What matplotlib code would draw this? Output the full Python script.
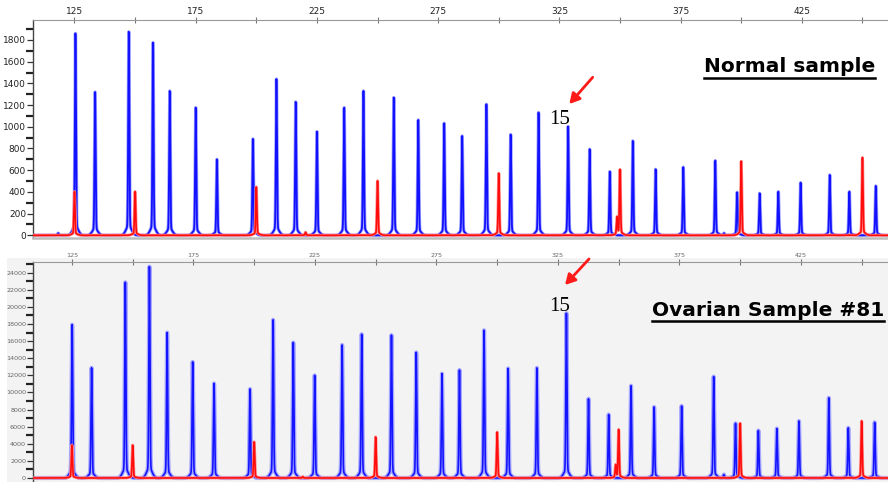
import numpy as np
import matplotlib
matplotlib.use("Agg")
import matplotlib.pyplot as plt
from matplotlib.lines import Line2D
from matplotlib.patches import Rectangle, FancyArrowPatch
from matplotlib.ticker import MultipleLocator, FixedLocator

# ---------------- data ----------------
# fragment sizes (bp) and peak heights
normal_blue_size = [125.4, 133.5, 147.4, 157.4, 164.3, 175.0, 183.75, 198.6, 208.3, 216.25,
                    225.0, 236.25, 244.2, 256.7, 266.8, 277.5, 284.9, 294.9, 304.9, 316.4,
                    328.6, 337.5, 345.8, 355.3, 364.7, 376.1, 389.3, 398.3, 407.6, 415.3,
                    424.5, 436.5, 444.6, 455.5, 118.3, 392.9]
normal_blue_height = [1860, 1320, 1875, 1775, 1330, 1176, 700, 888, 1440, 1230,
                      955, 1177, 1330, 1269, 1063, 1032, 915, 1207, 928, 1131,
                      1002, 793, 587, 870, 608, 627, 688, 396, 387, 402,
                      485, 556, 402, 455, 20, 20]
normal_red_size = [125.0, 150.0, 200.0, 220.3, 250.0, 300.0, 348.8, 350.0, 400.0, 450.0]
normal_red_height = [402, 402, 445, 28, 501, 571, 157, 602, 682, 716]

ovarian_blue_size = [125.1, 133.1, 147.0, 156.9, 164.2, 174.7, 183.5, 198.3, 207.8, 216.1,
                     224.9, 236.2, 244.25, 256.5, 266.7, 277.3, 284.5, 294.6, 304.5, 316.35,
                     328.5, 337.6, 345.9, 355.1, 364.6, 375.9, 389.1, 398.1, 407.5, 415.1,
                     424.2, 436.5, 444.5, 455.35, 393.3]
ovarian_blue_height = [17920, 12880, 22880, 24710, 17000, 13570, 11050, 10400, 18490, 15840,
                       12000, 15550, 16820, 16700, 14680, 12200, 12620, 17270, 12810, 12880,
                       19260, 9260, 7420, 10780, 8300, 8420, 11850, 6390, 5550, 5780,
                       6660, 9370, 5860, 6510, 400]
ovarian_red_size = [125.0, 150.0, 200.0, 220.0, 250.0, 300.0, 348.8, 350.0, 400.0, 450.0]
ovarian_red_height = [3836, 3836, 4218, 150, 4790, 5360, 1430, 5630, 6390, 6660]

size_ticks_labeled = [125, 175, 225, 275, 325, 375, 425]
size_ticks_minor = [150, 200, 250, 300, 350, 400, 450]
normal_y_labels = [0, 200, 400, 600, 800, 1000, 1200, 1400, 1600, 1800]
ovarian_y_labels = [0, 2000, 4000, 6000, 8000, 10000, 12000, 14000, 16000, 18000,
                    20000, 22000, 24000]

# ---------------- helpers ----------------
W, H = 888, 482
def fx(px):
    return px / W
def fy(py):
    return 1 - py / H

SKIRT = 0.05
def trace(x, sizes, heights, s=0.22):
    y = np.zeros_like(x)
    for c, h in zip(sizes, heights):
        d = (x - c)
        y += h * (np.exp(-0.5 * (d / s) ** 2) + SKIRT * np.exp(-0.5 * (d / 1.1) ** 2)) / (1 + SKIRT)
    return y

fig = plt.figure(figsize=(W / 100, H / 100), dpi=100)
fig.patch.set_facecolor("white")

# gray background of the lower panel
fig.add_artist(Rectangle((fx(7), 0), 1 - fx(7), (H - 258) / H, transform=fig.transFigure,
                         facecolor="#f3f3f3", edgecolor="none", zorder=0))

x = np.arange(105, 470, 0.02)

# ---------------- top panel ----------------
ax1 = fig.add_axes([fx(33), fy(238), (W - 33) / W + 0.01, (238 - 20) / H])
ax1.set_facecolor("white")
ax1.set_xlim(107.9, 464.2)
ax1.set_ylim(-25, 1984)
yb = trace(x, normal_blue_size, normal_blue_height)
yr = trace(x, normal_red_size, normal_red_height)
ax1.plot(x, yb, color="#a4a4ff", lw=2.4, zorder=2)
ax1.plot(x, yb, color="#1212ff", lw=1.3, zorder=3)
ax1.plot(x, yr, color="#ff9090", lw=2.2, zorder=4)
ax1.plot(x, yr, color="#ff0d0d", lw=1.2, zorder=5)

# ---------------- bottom panel ----------------
ax2 = fig.add_axes([fx(33), 0, (W - 33) / W + 0.01, (482 - 262) / H])
ax2.set_facecolor("none")
ax2.set_xlim(109.0, 464.5)
ax2.set_ylim(-468, 25250)
yb2 = trace(x, ovarian_blue_size, ovarian_blue_height)
yr2 = trace(x, ovarian_red_size, ovarian_red_height)
ax2.plot(x, yb2, color="#a8a8ff", lw=3.0, zorder=2)
ax2.plot(x, yb2, color="#1414ff", lw=1.2, zorder=3)
ax2.plot(x, yr2, color="#ff9090", lw=2.2, zorder=4)
ax2.plot(x, yr2, color="#ff0d0d", lw=1.2, zorder=5)

for ax, ylabs, fs, col, minor in [(ax1, normal_y_labels, 6.5, "#222222", 100),
                                   (ax2, ovarian_y_labels, 4.6, "#666666", 1000)]:
    ax.xaxis.tick_top()
    ax.xaxis.set_major_locator(FixedLocator(size_ticks_labeled))
    ax.xaxis.set_minor_locator(FixedLocator(size_ticks_minor))
    ax.yaxis.set_major_locator(FixedLocator(ylabs))
    ax.yaxis.set_minor_locator(MultipleLocator(minor))
    ax.tick_params(axis="x", which="both", direction="inout", length=4, width=0.8,
                   color="#777777", labelsize=fs, labelcolor=col, pad=1)
    ax.tick_params(axis="y", which="major", direction="out", length=4, width=0.9,
                   color="#333333", labelsize=fs, labelcolor=col, pad=1)
    ax.tick_params(axis="y", which="minor", direction="out", length=5, width=1.6,
                   color="#222222")
    ax.spines["right"].set_visible(False)
    ax.spines["top"].set_color("#999999")
    ax.spines["top"].set_linewidth(0.8)
    ax.spines["left"].set_color("#444444")
    ax.spines["left"].set_linewidth(1.0)

ax1.spines["bottom"].set_color("#bdbdbd")
ax1.spines["bottom"].set_linewidth(1.8)
ax2.spines["bottom"].set_visible(False)

ax1.set_yticklabels([str(v) for v in normal_y_labels])
ax2.set_yticklabels([str(v) for v in ovarian_y_labels])
ax1.set_xticklabels([str(v) for v in size_ticks_labeled])
ax2.set_xticklabels([str(v) for v in size_ticks_labeled])

# ---------------- annotations ----------------
t1 = fig.text(fx(875), fy(72), "Normal sample", ha="right", va="baseline",
              fontsize=14.5, fontweight="bold", family="DejaVu Sans", zorder=10)
t2 = fig.text(fx(884), fy(316), "Ovarian Sample #81", ha="right", va="baseline",
              fontsize=14.5, fontweight="bold", family="DejaVu Sans", zorder=10)
fig.text(fx(549), fy(123.5), "15", ha="left", va="baseline", fontsize=15,
         family="Liberation Serif", zorder=10)
fig.text(fx(549), fy(311), "15", ha="left", va="baseline", fontsize=15,
         family="Liberation Serif", zorder=10)

for tail, tip in [((592.7, 77.3), (569.3, 104.0)), ((589.0, 259.0), (565.0, 285.0))]:
    fig.add_artist(FancyArrowPatch(
        (fx(tail[0]), fy(tail[1])), (fx(tip[0]), fy(tip[1])),
        transform=fig.transFigure, arrowstyle="-|>,head_length=4,head_width=2.2",
        color="#ff1a1a", lw=2.0, mutation_scale=1.5, shrinkA=0, shrinkB=0, zorder=11))

fig.canvas.draw()
r = fig.canvas.get_renderer()
for t, uy in [(t1, 77.5), (t2, 320.7)]:
    bb = t.get_window_extent(r)
    fig.add_artist(Line2D([bb.x0 / W, bb.x1 / W], [fy(uy), fy(uy)], transform=fig.transFigure,
                          color="black", lw=1.8, zorder=10))

fig.savefig("out.png", dpi=100)
